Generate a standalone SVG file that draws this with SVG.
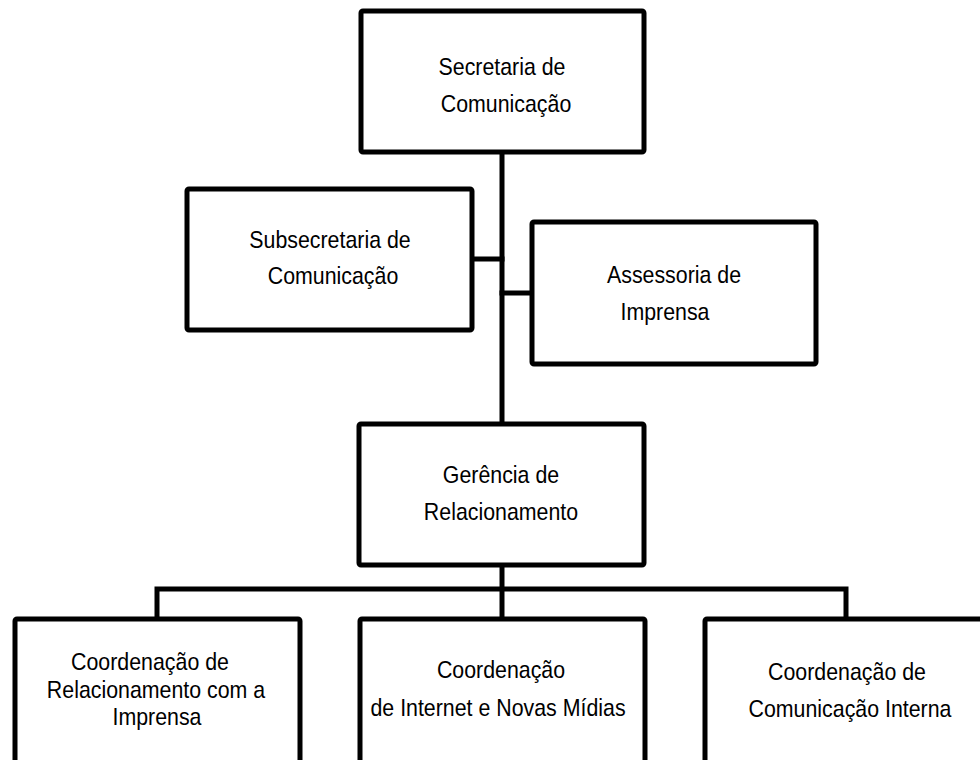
<svg xmlns="http://www.w3.org/2000/svg" width="980" height="760" viewBox="0 0 980 760">
  <style>
    .box { fill: #ffffff; stroke: #000000; stroke-width: 5; }
    .link { fill: none; stroke: #000000; stroke-width: 5; stroke-linecap: square; }
    .label { font-family: "Liberation Sans", Arial, sans-serif; font-size: 24px; fill: #000000; text-anchor: middle; }
  </style>
  <rect width="980" height="760" fill="#ffffff"/>

  <!-- connectors -->
  <g id="connectors">
    <path class="link" d="M502 152 V424"/>
    <path class="link" d="M472 259 H502"/>
    <path class="link" d="M502 293 H532"/>
    <path class="link" d="M502 565 V619"/>
    <path class="link" d="M157 619 V589 H846 V619"/>
  </g>

  <!-- nodes: labels are condensed horizontally -->
  <g id="secretaria">
    <rect class="box" x="361" y="11" width="283" height="141" rx="2"/>
    <text class="label" transform="translate(502 75) scale(0.89 1)">Secretaria de</text>
    <text class="label" transform="translate(506 112) scale(0.89 1)">Comunicação</text>
  </g>

  <g id="subsecretaria">
    <rect class="box" x="187" y="189" width="285" height="141" rx="2"/>
    <text class="label" transform="translate(330 248) scale(0.89 1)">Subsecretaria de</text>
    <text class="label" transform="translate(333 284) scale(0.89 1)">Comunicação</text>
  </g>

  <g id="assessoria">
    <rect class="box" x="532" y="222" width="284" height="142" rx="2"/>
    <text class="label" transform="translate(674 283) scale(0.89 1)">Assessoria de</text>
    <text class="label" transform="translate(665 320) scale(0.89 1)">Imprensa</text>
  </g>

  <g id="gerencia">
    <rect class="box" x="359" y="424" width="285" height="141" rx="2"/>
    <text class="label" transform="translate(501 483) scale(0.89 1)">Gerência de</text>
    <text class="label" transform="translate(501 520) scale(0.89 1)">Relacionamento</text>
  </g>

  <g id="coord-imprensa">
    <rect class="box" x="15" y="619" width="285" height="146" rx="2"/>
    <text class="label" transform="translate(150 670) scale(0.89 1)">Coordenação de</text>
    <text class="label" transform="translate(156 698) scale(0.89 1)">Relacionamento com a</text>
    <text class="label" transform="translate(157 725) scale(0.89 1)">Imprensa</text>
  </g>

  <g id="coord-internet">
    <rect class="box" x="360" y="619" width="285" height="146" rx="2"/>
    <text class="label" transform="translate(501 678) scale(0.89 1)">Coordenação</text>
    <text class="label" transform="translate(498 716) scale(0.89 1)">de Internet e Novas Mídias</text>
  </g>

  <g id="coord-interna">
    <rect class="box" x="705" y="619" width="285" height="146" rx="2"/>
    <text class="label" transform="translate(847 680) scale(0.89 1)">Coordenação de</text>
    <text class="label" transform="translate(850 717) scale(0.89 1)">Comunicação Interna</text>
  </g>
</svg>
